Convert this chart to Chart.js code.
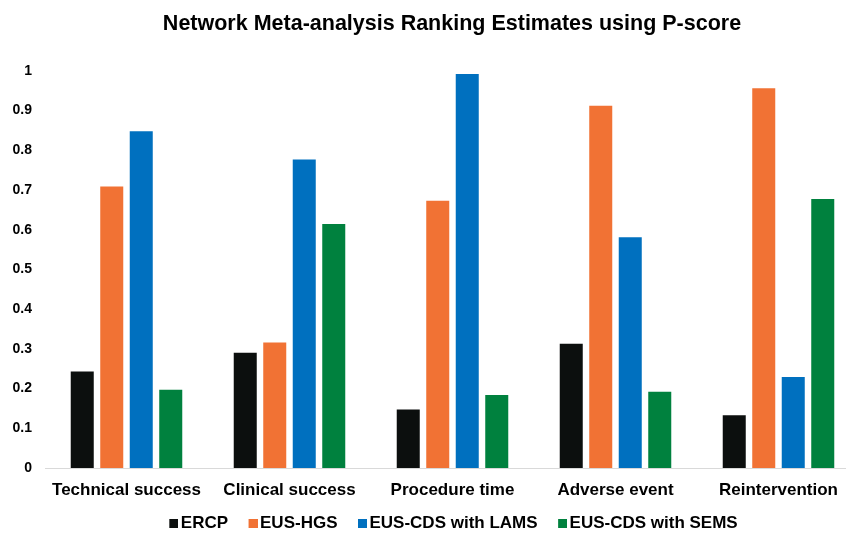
<!DOCTYPE html>
<html>
<head>
<meta charset="utf-8">
<script src="https://cdn.jsdelivr.net/npm/chart.js@4/dist/chart.umd.min.js"></script>
<style>
  html, body { margin: 0; padding: 0; background: #ffffff; overflow: hidden; width: 846px; height: 536px; }
  #wrap { position: absolute; left: 0; top: 0; width: 912px; height: 536px; }
</style>
</head>
<body>
<div id="wrap"><canvas id="c" width="912" height="536"></canvas></div>
<script>
// Outcomes compared across the network
const categories = ['Technical success', 'Clinical success', 'Procedure time', 'Adverse event', 'Reintervention'];

// P-score per treatment, one value per outcome
const ercp = [0.243, 0.290, 0.147, 0.313, 0.133];
const eusHgs = [0.709, 0.316, 0.673, 0.912, 0.956];
const eusCdsLams = [0.848, 0.777, 0.992, 0.581, 0.229];
const eusCdsSems = [0.197, 0.614, 0.184, 0.192, 0.677];

const seriesNames = ['ERCP', 'EUS-HGS', 'EUS-CDS with LAMS', 'EUS-CDS with SEMS'];
const seriesColors = ['#0c0f0e', '#f17234', '#0070bf', '#00813e'];

// Y axis tick labels
const yTickLabels = ['0', '0.1', '0.2', '0.3', '0.4', '0.5', '0.6', '0.7', '0.8', '0.9', '1'];

const FONT = "'Liberation Sans', Arial, sans-serif";

// Small square legend swatches, pushed to the right of their slot so they sit close to the text
function makeSwatch(color) {
  const cv = document.createElement('canvas');
  cv.width = 18;
  cv.height = 9;
  const g = cv.getContext('2d');
  g.fillStyle = color;
  g.fillRect(9, 0, 9, 9);
  return cv;
}
const swatches = seriesColors.map(makeSwatch);

const datasets = [ercp, eusHgs, eusCdsLams, eusCdsSems].map((vals, i) => ({
  label: seriesNames[i],
  data: vals,
  backgroundColor: seriesColors[i],
  borderWidth: 0,
  barPercentage: 0.78,
  categoryPercentage: 0.724
}));

new Chart(document.getElementById('c'), {
  type: 'bar',
  data: { labels: categories, datasets },
  options: {
    responsive: false,
    animation: false,
    layout: { autoPadding: false, padding: { left: 11, right: 19, top: 0, bottom: -5.5 } },
    plugins: {
      title: {
        display: true,
        text: 'Network Meta-analysis Ranking Estimates using P-score',
        color: '#000000',
        font: { family: FONT, size: 21.5, weight: 'bold' },
        padding: { top: 11, bottom: 34 }
      },
      legend: {
        position: 'bottom',
        labels: {
          color: '#000000',
          font: { family: FONT, size: 17, weight: 'bold' },
          usePointStyle: true,
          boxWidth: 6,
          boxHeight: 9,
          padding: 17.5,
          generateLabels(chart) {
            const items = Chart.defaults.plugins.legend.labels.generateLabels(chart);
            items.forEach((it, i) => { it.pointStyle = swatches[i]; });
            return items;
          }
        }
      },
      tooltip: { enabled: false }
    },
    scales: {
      x: {
        grid: { display: false, drawTicks: false },
        border: { display: true, color: '#d9d9d9', width: 1 },
        afterFit(scale) { scale.height = 29; },
        ticks: {
          color: '#000000',
          font: { family: FONT, size: 17, weight: 'bold' },
          padding: 12,
          maxRotation: 0
        }
      },
      y: {
        min: 0,
        max: 1,
        grid: { display: false, drawTicks: false },
        border: { display: false },
        afterFit(scale) { scale.width = 34; },
        ticks: {
          stepSize: 0.1,
          padding: 13,
          color: '#000000',
          font: { family: FONT, size: 14, weight: 'bold' },
          callback: (v) => yTickLabels[Math.round(v * 10)]
        }
      },
      // empty right-hand margin axis, balances the title and legend over the plot
      yMargin: {
        type: 'linear',
        position: 'right',
        display: true,
        grid: { display: false, drawTicks: false },
        border: { display: false },
        ticks: { display: false },
        afterFit(scale) { scale.width = 33; }
      }
    }
  }
});
</script>
</body>
</html>
